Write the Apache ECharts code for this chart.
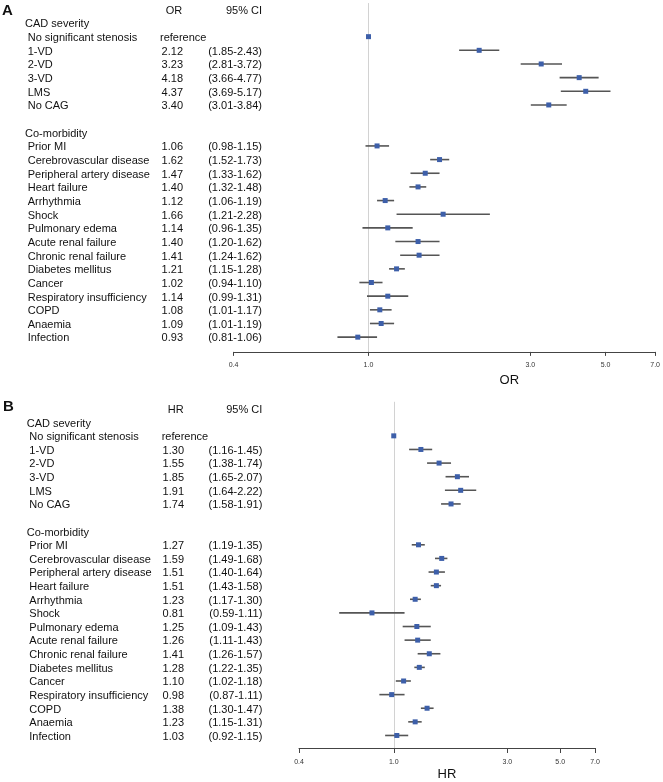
<!DOCTYPE html>
<html><head><meta charset="utf-8">
<script src="https://cdn.jsdelivr.net/npm/echarts@6/dist/echarts.min.js"></script>
<style>html,body{margin:0;padding:0;background:#fff}#c{width:663px;height:782px}</style>
</head><body><div id="c"></div>
<script>
// ---------------- data ----------------
const cadLabels = ['No significant stenosis', '1-VD', '2-VD', '3-VD', 'LMS', 'No CAG'];
const comorbLabels = ['Prior MI', 'Cerebrovascular disease', 'Peripheral artery disease', 'Heart failure',
  'Arrhythmia', 'Shock', 'Pulmonary edema', 'Acute renal failure', 'Chronic renal failure',
  'Diabetes mellitus', 'Cancer', 'Respiratory insufficiency', 'COPD', 'Anaemia', 'Infection'];
const groupTitles = ['CAD severity', 'Co-morbidity'];

const orEst  = [1.00, 2.12, 3.23, 4.18, 4.37, 3.40, 1.06, 1.62, 1.47, 1.40, 1.12, 1.66, 1.14, 1.40, 1.41, 1.21, 1.02, 1.14, 1.08, 1.09, 0.93];
const orLow  = [null, 1.85, 2.81, 3.66, 3.69, 3.01, 0.98, 1.52, 1.33, 1.32, 1.06, 1.21, 0.96, 1.20, 1.24, 1.15, 0.94, 0.99, 1.01, 1.01, 0.81];
const orHigh = [null, 2.43, 3.72, 4.77, 5.17, 3.84, 1.15, 1.73, 1.62, 1.48, 1.19, 2.28, 1.35, 1.62, 1.62, 1.28, 1.10, 1.31, 1.17, 1.19, 1.06];

const hrEst  = [1.00, 1.30, 1.55, 1.85, 1.91, 1.74, 1.27, 1.59, 1.51, 1.51, 1.23, 0.81, 1.25, 1.26, 1.41, 1.28, 1.10, 0.98, 1.38, 1.23, 1.03];
const hrLow  = [null, 1.16, 1.38, 1.65, 1.64, 1.58, 1.19, 1.49, 1.40, 1.43, 1.17, 0.59, 1.09, 1.11, 1.26, 1.22, 1.02, 0.87, 1.30, 1.15, 0.92];
const hrHigh = [null, 1.45, 1.74, 2.07, 2.22, 1.91, 1.35, 1.68, 1.64, 1.58, 1.30, 1.11, 1.43, 1.43, 1.57, 1.35, 1.18, 1.11, 1.47, 1.31, 1.15];

const tickValues = [0.4, 1.0, 3.0, 5.0, 7.0];
const referenceValue = 1.0;
const referenceText = 'reference';
const ciHeader = '95% CI';

// ---------------- layout ----------------
const FONT = '"Liberation Sans", Arial, Helvetica, sans-serif';
const itemLabels = cadLabels.concat(comorbLabels);
const itemRows = cadLabels.map((_, i) => 1 + i).concat(comorbLabels.map((_, i) => 9 + i));
const groupRows = [0, 8];

const panels = [
  { letter: 'A', measure: 'OR', est: orEst, lo: orLow, hi: orHigh,
    grid: { left: 233.5, right: 6, top: 3.06, height: 348.84 }, yMin: -1.46, yMax: 24.08,
    letterX: 2, letterDy: 1.5, groupX: 25, nameX: 27.7, headCenter: 174, valRight: 183, refLeft: 160, ciRight: 262,
    labelMargin: 10, tickLen: 4, nameGap: 22, namePad: 130 },
  { letter: 'B', measure: 'HR', est: hrEst, lo: hrLow, hi: hrHigh,
    grid: { left: 299, right: 68, top: 401.8, height: 347.4 }, yMin: -1.5, yMax: 23.92,
    letterX: 3, letterDy: -1.8, groupX: 26.7, nameX: 29.3, headCenter: 175.7, valRight: 184, refLeft: 161.7, ciRight: 262.3,
    labelMargin: 11, tickLen: 5, nameGap: 20, namePad: 0 }
];

const grids = [], xAxes = [], yAxes = [], series = [];

panels.forEach((p, pi) => {
  grids.push(Object.assign({ containLabel: false }, p.grid));
  xAxes.push({
    type: 'log', gridIndex: pi, min: 0.4, max: 7, logBase: 10,
    axisLine: { show: true, onZero: false, lineStyle: { color: '#444', width: 1 } },
    axisTick: { show: true, customValues: tickValues, length: p.tickLen, lineStyle: { color: '#444', width: 1 } },
    axisLabel: { show: true, customValues: tickValues, formatter: v => Number(v).toFixed(1),
      fontSize: 7, fontFamily: FONT, color: '#333', margin: p.labelMargin },
    splitLine: { show: false }, minorTick: { show: false },
    name: p.measure, nameLocation: 'middle', nameGap: p.nameGap,
    nameTextStyle: { fontSize: 13, fontFamily: FONT, color: '#111', padding: [0, 0, 0, p.namePad] }
  });
  yAxes.push({ type: 'value', gridIndex: pi, inverse: true, min: p.yMin, max: p.yMax, show: false });

  // reference line (drawn beneath marks)
  series.push({
    type: 'scatter', xAxisIndex: pi, yAxisIndex: pi, silent: true, z: 0, data: [],
    markLine: { silent: true, z: 0, zlevel: 0, symbol: 'none', label: { show: false }, animation: false,
      lineStyle: { color: '#d2d2d2', width: 1, type: 'solid' }, data: [{ xAxis: referenceValue }] }
  });

  // text rows
  const texts = [];
  texts.push({ row: -1, kind: 'header' });
  groupRows.forEach((r, gi) => texts.push({ row: r, kind: 'group', text: groupTitles[gi] }));
  itemLabels.forEach((lab, i) => texts.push({ row: itemRows[i], kind: 'item', idx: i, text: lab }));

  series.push({
    type: 'custom', xAxisIndex: pi, yAxisIndex: pi, silent: true, clip: false, z: 1,
    data: texts.map((t, i) => [1, t.row, i]),
    encode: { x: 0, y: 1 },
    renderItem: function (params, api) {
      const t = texts[api.value(2)];
      const y = api.coord([1, api.value(1)])[1] + 1.3;
      const f = '11px ' + FONT;
      const mk = (x, text, align, font, dy) => ({ type: 'text', x: x, y: y + (dy || 0),
        style: { text: text, font: font || f, fill: '#111', align: align, verticalAlign: 'middle' } });
      if (t.kind === 'header') {
        return { type: 'group', children: [
          mk(p.letterX, p.letter, 'left', 'bold 15px ' + FONT, p.letterDy - 1.3),
          mk(p.headCenter, p.measure, 'center'),
          mk(p.ciRight, ciHeader, 'right')
        ]};
      }
      if (t.kind === 'group') return mk(p.groupX, t.text, 'left');
      const i = t.idx;
      const kids = [mk(p.nameX, t.text, 'left')];
      if (p.lo[i] == null) {
        kids.push(mk(p.refLeft, referenceText, 'left'));
      } else {
        kids.push(mk(p.valRight, p.est[i].toFixed(2), 'right'));
        kids.push(mk(p.ciRight, '(' + p.lo[i].toFixed(2) + '-' + p.hi[i].toFixed(2) + ')', 'right'));
      }
      return { type: 'group', children: kids };
    }
  });

  // CI whiskers
  const ciData = [];
  p.est.forEach((e, i) => { if (p.lo[i] != null) ciData.push([p.lo[i], p.hi[i], itemRows[i]]); });
  series.push({
    type: 'custom', xAxisIndex: pi, yAxisIndex: pi, silent: true, z: 2,
    data: ciData, encode: { x: [0, 1], y: 2 },
    renderItem: function (params, api) {
      const s = api.coord([api.value(0), api.value(2)]);
      const e = api.coord([api.value(1), api.value(2)]);
      return { type: 'line', shape: { x1: s[0], y1: s[1], x2: e[0], y2: e[1] },
        style: { stroke: '#555', lineWidth: 1.6 } };
    }
  });

  // point estimates
  series.push({
    type: 'scatter', xAxisIndex: pi, yAxisIndex: pi, silent: true, z: 6,
    symbol: 'rect', symbolSize: 5, itemStyle: { color: '#3d5fa9', opacity: 1 },
    data: p.est.map((e, i) => [e, itemRows[i]])
  });
});

const chart = echarts.init(document.getElementById('c'), null, { renderer: 'canvas' });
chart.setOption({ animation: false, backgroundColor: '#fff', grid: grids, xAxis: xAxes, yAxis: yAxes, series: series });
</script></body></html>
